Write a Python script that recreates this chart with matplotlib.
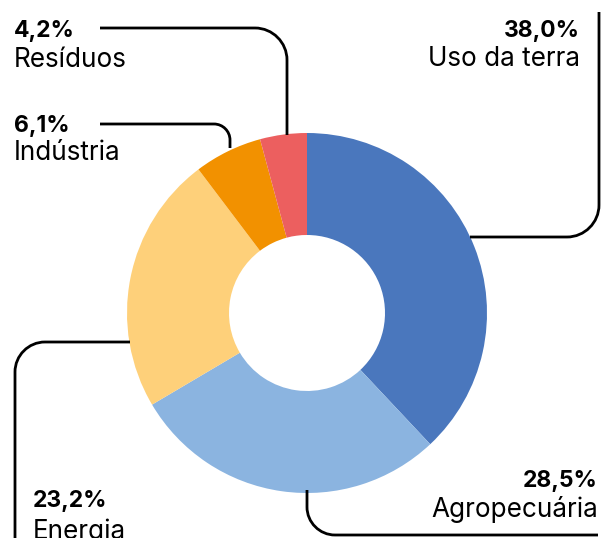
import matplotlib
matplotlib.use("Agg")
import matplotlib.pyplot as plt
import numpy as np
from matplotlib.path import Path
from matplotlib.patches import PathPatch

labels = ["Uso da terra", "Agropecuária", "Energia", "Indústria", "Resíduos"]
shares = [38.0, 28.5, 23.2, 6.1, 4.2]
colors = ["#4A77BD", "#8BB4E0", "#FED07A", "#F29100", "#EC5F5F"]

W, H = 608, 538
CX, CY = 307, 313
R_OUT, R_IN = 180, 78

# label layout (pixel coords, y down): pct baseline, name baseline, x, align
LAYOUT = {
    "Uso da terra": (37, 66, 580, "right"),
    "Agropecuária": (487, 517, 598, "right"),
    "Energia": (507, 539, 33, "left"),
    "Indústria": (132, 160, 14, "left"),
    "Resíduos": (37, 67, 14, "left"),
}
# leader lines: start, corner, end, radius
LEADERS = {
    "Uso da terra": ((599, 12), (599, 237), (470, 237), 32),
    "Agropecuária": ((307, 490), (307, 535), (598, 535), 28),
    "Energia": ((130, 342), (15, 342), (15, 545), 30),
    "Indústria": ((100, 124), (230, 124), (230, 148), 16),
    "Resíduos": ((100, 28), (287, 28), (287, 135), 32),
}

plt.rcParams["font.family"] = ["Inter", "DejaVu Sans"]

fig = plt.figure(figsize=(W / 100, H / 100), dpi=100)
ax = fig.add_axes([0, 0, 1, 1])

ax.pie(shares, colors=colors, startangle=90, counterclock=False,
       center=(CX, H - CY), radius=R_OUT,
       wedgeprops=dict(width=R_OUT - R_IN, linewidth=0))


def fy(y):
    return H - y


def leader(p0, c, p1, r):
    p0, c, p1 = np.array(p0, float), np.array(c, float), np.array(p1, float)
    d0 = (c - p0) / np.linalg.norm(c - p0)
    d1 = (p1 - c) / np.linalg.norm(p1 - c)
    a = c - d0 * r
    b = c + d1 * r
    k = 0.55
    verts = [p0, a, a + d0 * r * k, b - d1 * r * k, b, p1]
    codes = [Path.MOVETO, Path.LINETO, Path.CURVE4, Path.CURVE4, Path.CURVE4, Path.LINETO]
    verts = [(v[0], fy(v[1])) for v in verts]
    ax.add_patch(PathPatch(Path(verts, codes), fill=False, lw=2.0,
                           edgecolor="black", capstyle="butt", zorder=5))


for lab, val in zip(labels, shares):
    p0, c, p1, r = LEADERS[lab]
    leader(p0, c, p1, r)
    yb, yn, x, ha = LAYOUT[lab]
    ax.text(x, fy(yb), f"{val:.1f}%".replace(".", ","), ha=ha, va="baseline",
            fontsize=16.5, fontweight="bold", color="black")
    ax.text(x, fy(yn), lab, ha=ha, va="baseline", fontsize=18.8, color="black")

ax.set_xlim(0, W)
ax.set_ylim(0, H)
ax.set_aspect("equal")
ax.axis("off")
fig.savefig("out.png", dpi=100)
